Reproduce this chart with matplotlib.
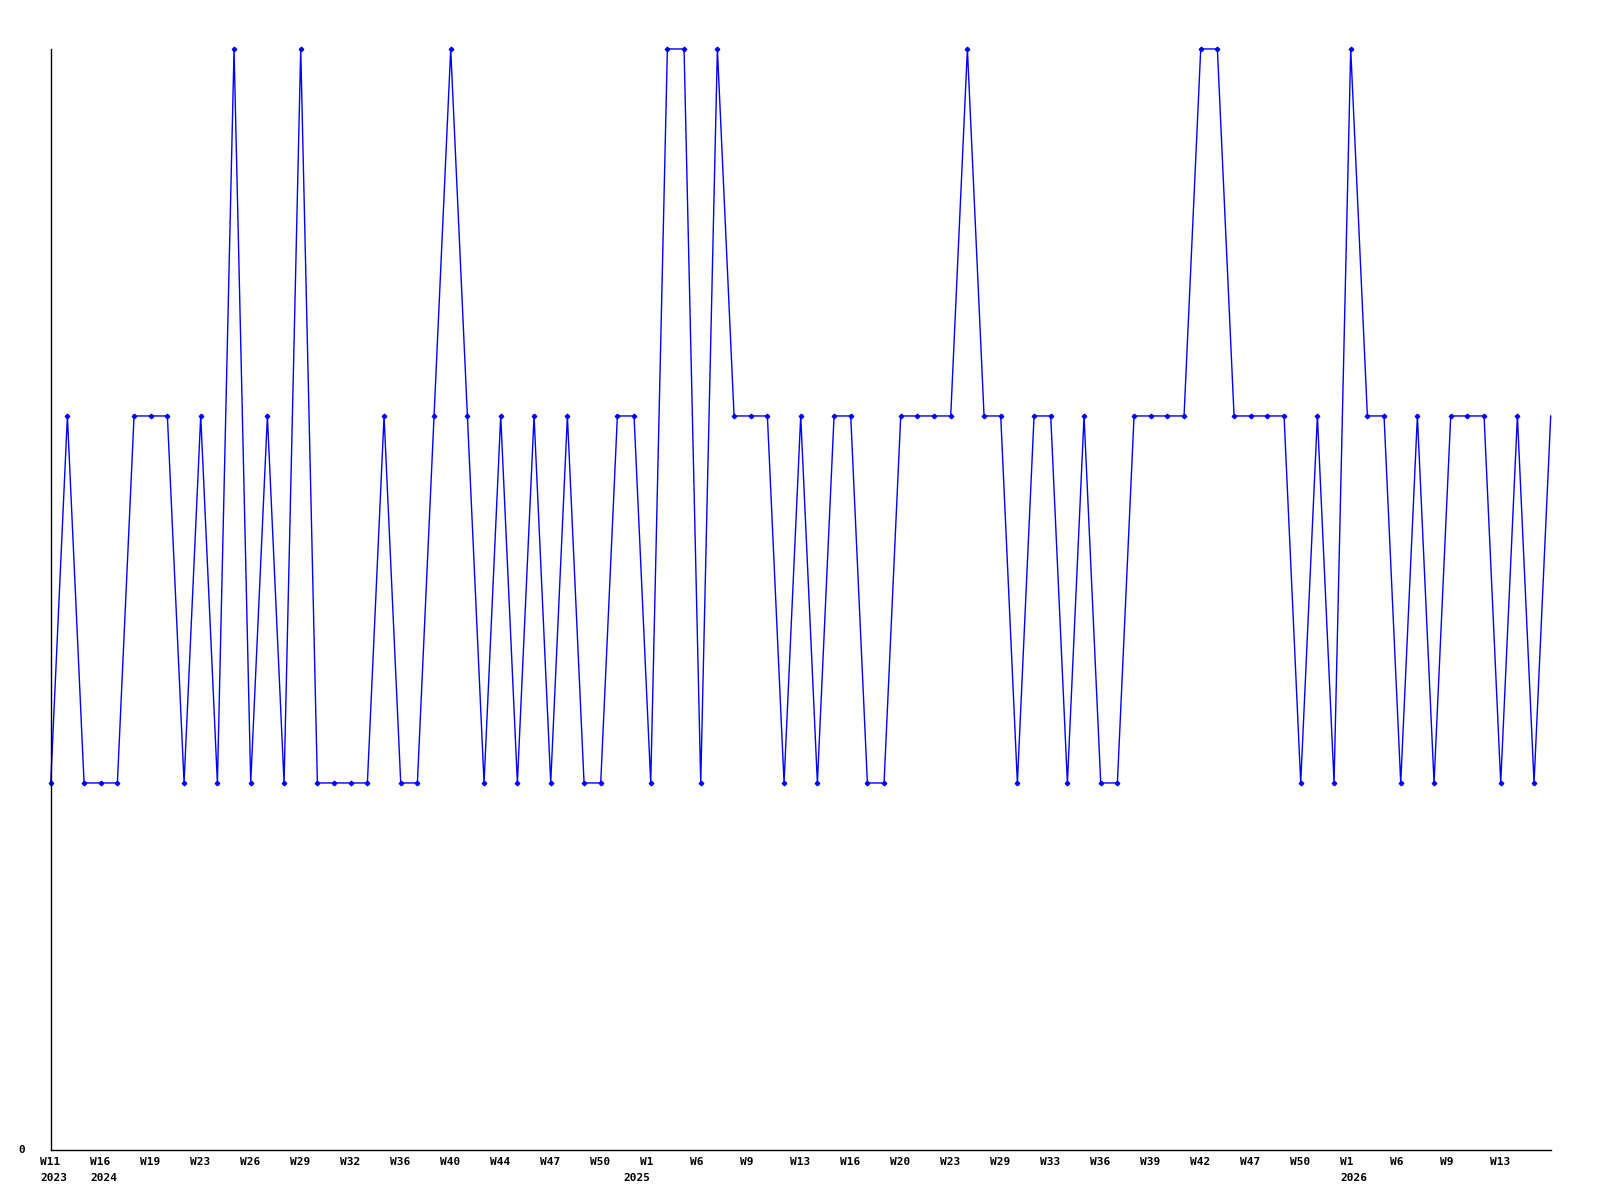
import matplotlib
matplotlib.use("Agg")
import matplotlib.pyplot as plt
from matplotlib.transforms import offset_copy

# weekly values, one per week
values = [1, 2, 1, 1, 1, 2, 2, 2, 1, 2,
          1, 3, 1, 2, 1, 3, 1, 1, 1, 1,
          2, 1, 1, 2, 3, 2, 1, 2, 1, 2,
          1, 2, 1, 1, 2, 2, 1, 3, 3, 1,
          3, 2, 2, 2, 1, 2, 1, 2, 2, 1,
          1, 2, 2, 2, 2, 3, 2, 2, 1, 2,
          2, 1, 2, 1, 1, 2, 2, 2, 2, 3,
          3, 2, 2, 2, 2, 1, 2, 1, 3, 2,
          2, 1, 2, 1, 2, 2, 2, 1, 2, 1,
          2]

week_labels = ["W11", "W16", "W19", "W23", "W26", "W29", "W32", "W36", "W40", "W44",
               "W47", "W50", "W1", "W6", "W9", "W13", "W16", "W20", "W23", "W29",
               "W33", "W36", "W39", "W42", "W47", "W50", "W1", "W6", "W9", "W13"]
year_labels = {0: "2023", 1: "2024", 12: "2025", 26: "2026"}
label_step = 3

x = list(range(len(values)))

fig = plt.figure(figsize=(16, 12), dpi=100)
ax = fig.add_axes([0.0317, 0.0417, 0.9375, 0.9175])

ax.plot(x, values, color="#0000ff", lw=1, marker="D", markersize=2.3,
        markevery=list(range(len(values) - 1)), clip_on=False)

ax.set_xlim(0, len(values) - 1)
ax.set_ylim(0, 3)
ax.spines["top"].set_visible(False)
ax.spines["right"].set_visible(False)
ax.spines["left"].set_linewidth(1)
ax.spines["bottom"].set_linewidth(1)
ax.set_xticks([])
ax.set_yticks([])

font = dict(family="DejaVu Sans Mono", weight="bold", fontsize=8)
trans = ax.get_xaxis_transform()
row1 = offset_copy(trans, fig=fig, x=-7.7, y=-8.8, units="points")
for i, lab in enumerate(week_labels):
    xi = i * label_step
    ax.text(xi, 0, lab, transform=row1, ha="left", va="center", **font)
    if i in year_labels:
        # the 2025 label sits a bit further left in the original
        dx = -20 if year_labels[i] == "2025" else -7.7
        row2 = offset_copy(trans, fig=fig, x=dx, y=-20, units="points")
        ax.text(xi, 0, year_labels[i], transform=row2, ha="left", va="center", **font)

ax.text(0, 0, "0", transform=offset_copy(ax.transAxes, fig=fig, x=-20.5, y=0, units="points"),
        ha="center", va="center", **font)

fig.savefig("out.png", dpi=100)
